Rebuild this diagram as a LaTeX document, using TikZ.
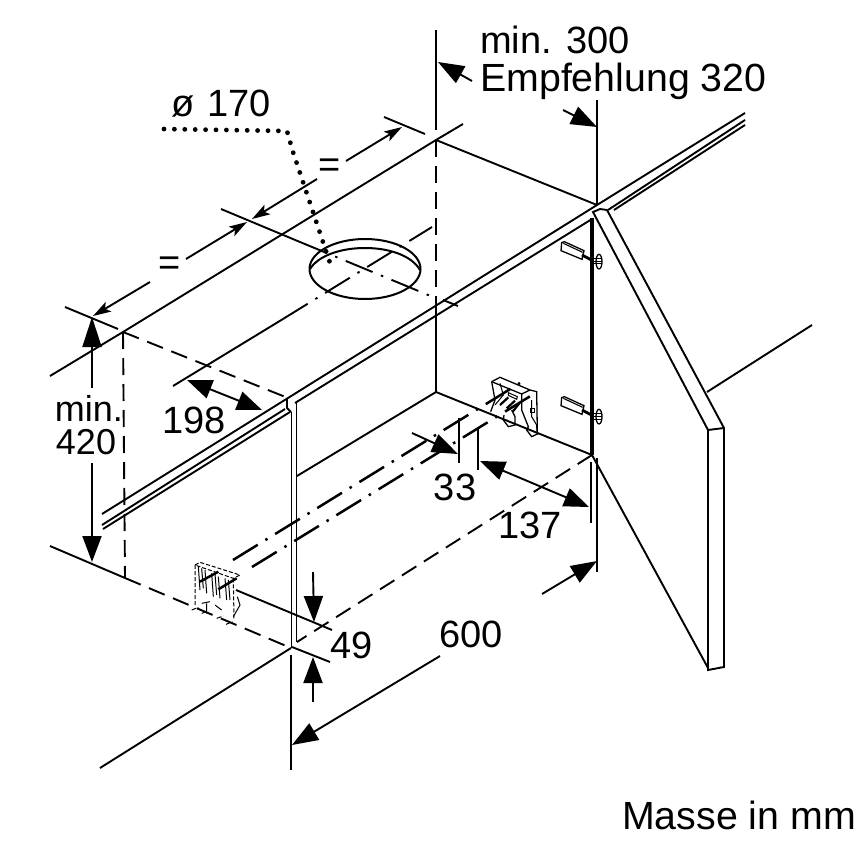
\documentclass[tikz,border=0pt]{standalone}
\usepackage{fontspec}
\setmainfont{Liberation Sans}
\usetikzlibrary{arrows.meta}
\tikzset{
  ln/.style={line width=1.9pt,line cap=butt},
  thin part/.style={line width=1pt},
  dsh/.style={ln,dash pattern=on 17pt off 9pt},
  ctr/.style={ln,dash pattern=on 29pt off 9pt on 2.5pt off 9pt},
  ctrb/.style={line width=2.5pt,dash pattern=on 29pt off 9pt on 2.5pt off 9pt},
  big/.style={ln,-{Triangle[length=26pt,width=19pt]}},
  bigb/.style={ln,{Triangle[length=25pt,width=19pt]}-{Triangle[length=25pt,width=19pt]}},
  small/.style={ln,-{Stealth[length=18pt,width=11pt,inset=4pt]}},
  lab/.style={inner sep=0pt,font=\fontsize{38}{44}\selectfont},
  labw/.style={inner sep=0pt,font=\fontsize{39.3}{44}\selectfont},
  labn/.style={inner sep=0pt,font=\fontsize{36}{44}\selectfont},
}
\begin{document}
\begin{tikzpicture}[x=1pt,y=-1pt]
\useasboundingbox (0,0) rectangle (866,842);
% --- named corners
\coordinate (backR) at (436,140);
\coordinate (backL) at (123,332);
\coordinate (frontR) at (597,205);
\coordinate (frontL) at (288,398);
\coordinate (floorBack) at (436,392);
\coordinate (floorR) at (592,455);
\coordinate (floorFL) at (291,648);
\coordinate (floorBL) at (125,578);
% --- top panel and walls
\draw[ln] (50,376) -- (backL) -- (backR) -- (463,124);
\draw[ln] (backR) -- (frontR);
\draw[dsh] (backL) -- (frontL);
\draw[dsh] (backL) -- (floorBL);
\draw[dsh] (backR) -- (436,313);
\draw[ln] (436,313) -- (floorBack);
\draw[ln] (floorBack) -- (floorR);
\draw[ln] (floorBack) -- (297,476);
\draw[dsh] (floorR) -- (297,642);
\draw[dsh] (floorBL) -- (floorFL);
\draw[ln] (50,546) -- (floorBL);
\draw[ln] (floorFL) -- (100,768);
% --- rails
\draw[ln] (102,514) -- (frontL) -- (frontR) -- (745,113);
\draw[ln] (102,525) -- (285,409);
\draw[ln] (103,529) -- (290,412);
\draw[ln] (295,403) -- (592,219);
\draw[ln] (608,210) -- (745,120);
\draw[ln] (614,210) -- (745,125);
\draw[ln] (287,398) -- (287,408) -- (291,412);
\draw[ln] (443,300) -- (458,306);
\draw[ln] (291.5,412) -- (291.5,648);
\draw[ln] (296.5,403) -- (296.5,642);
% --- door
\draw[line width=3.8pt] (592,218) -- (floorR);
\draw[ln] (593,212) -- (600,209) -- (607,210) -- (724,428) -- (724,667) -- (708,670) -- (708,430) -- cycle;
\draw[ln] (708,430) -- (724,428);
\draw[ln] (floorR) -- (708,668);
\draw[ln] (707,392) -- (812,325);
% --- hinges
\foreach \dy in {0,155}{
\begin{scope}[shift={(430,180+\dy)},scale=1/3]
  \draw[line width=1.3pt] (395,188) -- (403,185) -- (462,212) -- (456,238) -- (393,212) -- cycle;
  \draw[line width=1.1pt] (400,190) -- (458,217);
  \draw[line width=2.8pt] (456,225) -- (490,243);
  \draw[line width=1.3pt] (507,245) ellipse (9 and 22);
  \draw[thin part] (480,235) -- (515,235) (480,245) -- (515,245) (480,252) -- (515,252);
\end{scope}}
% --- hole
\draw[line width=2pt] (365,269) ellipse (55.5 and 30);
\draw[line width=2pt] (310,269) .. controls (318,256) and (340,248) .. (365,248) .. controls (390,248) and (412,256) .. (420,270);
% --- centre lines
\draw[ln] (173,386) -- (283,319);
\draw[ctr] (283,319) -- (432,227);
\draw[ln] (221,209) -- (300,242);
\draw[ctr] (300,242) -- (433,297);
\draw[ctrb] (233,560) -- (520,383);
\draw[ctrb] (252,567) -- (537,392);
% --- right bracket
\begin{scope}[shift={(400,360)},scale=1/3]
  \draw[line width=1.3pt] (275,65) -- (300,52) -- (390,90) -- (410,95) -- (412,215);
  \draw[line width=1.3pt] (275,65) -- (365,102) -- (390,90);
  \draw[line width=1.3pt] (275,65) -- (285,120) -- (272,155);
  \draw[thin part] (300,70) -- (310,105) -- (285,135);
  \draw[line width=1.3pt] (365,102) -- (365,150) -- (385,200) -- (380,210) -- (395,230) -- (412,222) -- (410,195);
  \draw[thin part] (395,120) -- (395,170) -- (410,195);
  \draw[line width=1.3pt] (335,150) -- (345,170) -- (345,195) -- (325,200) -- (310,180) -- (312,165);
  \draw[line width=2.2pt] (300,135) -- (325,112) (320,145) -- (345,122) (338,155) -- (358,130);
  \draw[thin part] (325,98) -- (352,110) -- (350,118) -- (325,106) -- cycle;
  \draw[thin part] (390,145) rectangle (402,157);
\end{scope}
% --- left bracket
\begin{scope}[shift={(150,530)},scale=1/3]
  \draw[thin part,dash pattern=on 4pt off 2pt] (135,105) -- (150,97) -- (270,135) -- (250,145) -- cycle;
  \draw[thin part,dash pattern=on 4pt off 2pt] (135,105) -- (135,230) (250,145) -- (252,270);
  \draw[thin part] (145,110) -- (150,180) (165,120) -- (170,190) (185,130) -- (190,200) (205,140) -- (210,205) (225,145) -- (230,210);
  \draw[thin part] (155,115) -- (160,175) (195,132) -- (200,195) (235,150) -- (240,210);
  \draw[line width=2.5pt] (150,155) -- (205,125) (205,178) -- (260,145);
  \draw[thin part,dash pattern=on 5pt off 2pt] (125,240) -- (145,232) (155,250) -- (175,243) (200,265) -- (220,258) (228,283) -- (248,275);
  \draw[thin part] (155,220) -- (180,215) (195,225) -- (215,240) (170,220) -- (170,250) (262,200) -- (270,225) -- (250,260);
\end{scope}
% --- dimension lines
\draw[ln] (436,30) -- (436,130);
\draw[ln] (597,100) -- (frontR);
\draw[big] (472,81) -- (438,62);
\draw[big] (563,110) -- (597,127);
\draw[ln] (384,117) -- (425,134);
\draw[small] (346,161) -- (402,127);
\draw[small] (317,179) -- (252,219);
\draw[small] (186,259) -- (247,222);
\draw[small] (150,282) -- (93,316);
\draw[ln] (65,307) -- (118,329);
\draw[bigb] (187,380) -- (262,410);
\draw[ln,-{Triangle[length=30pt,width=19pt]}] (92,388) -- (92,317);
\draw[big] (92,463) -- (92,562);
\draw[ln] (236,590) -- (332,630);
\draw[ln] (292,647) -- (330,662);
\draw[big] (313,572) -- (314,622);
\draw[big] (313,702) -- (313,657);
\draw[ln] (459,418) -- (459,463);
\draw[ln] (478,427) -- (478,470);
\draw[big] (412,433) -- (458,454);
\draw[bigb] (480,461) -- (589,507);
\draw[ln] (591,462) -- (591,523);
\draw[ln] (597,458) -- (597,572);
\draw[ln] (291,655) -- (291,770);
\draw[big] (542,594) -- (597,561);
\draw[big] (440,656) -- (292,745);
% --- dotted leader
\draw[line width=4.8pt,line cap=round,dash pattern=on 0pt off 10.4pt] (164,129) -- (287,131) -- (293,152) -- (332,269);
% --- labels
\node[lab,anchor=west] (t300) at (480,40) {min. 300};
\node[labw,anchor=west] (t320) at (480,81) {Empfehlung 320};
\node[lab] (t170) at (221,104) {ø\hspace{12.5pt}170};
\node[lab] (eqa) at (330,168) {=};
\node[lab] (eqb) at (170,266) {=};
\node[labn] (tmin) at (89,408) {min.};
\node[labn] (t420) at (86,442) {420};
\node[lab] (t198) at (194,420) {198};
\node[lab] (t33) at (455,487) {33};
\node[lab] (t137) at (530,525) {137};
\node[lab] (t600) at (471,634) {600};
\node[lab] (t49) at (352,645) {49};
\node[labw,anchor=east] (tmasse) at (856,815) {Masse in mm};
\end{tikzpicture}
\end{document}
